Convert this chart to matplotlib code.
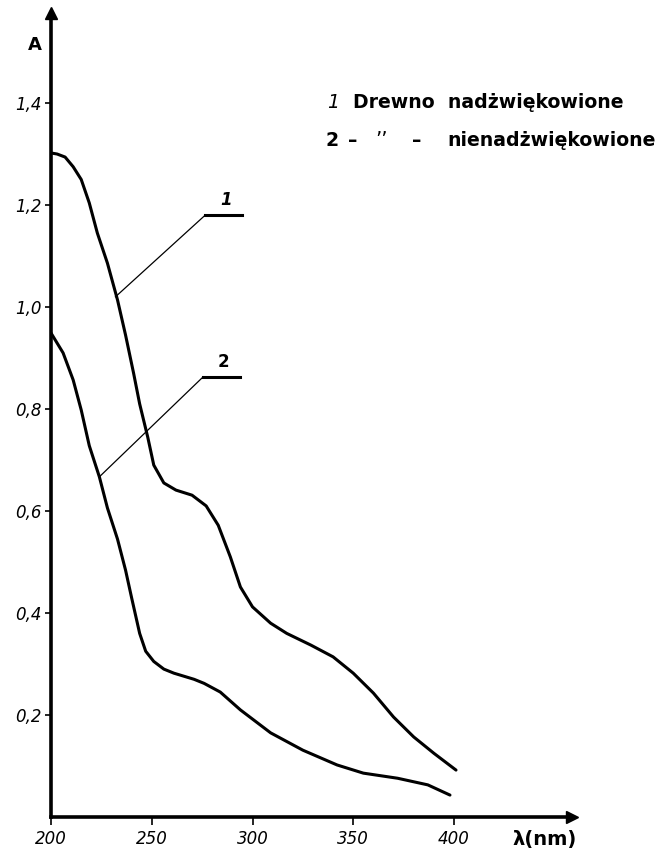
import matplotlib.pyplot as plt

# wavelength (nm) / absorbance
wl_1 = [200, 203, 207, 211, 215, 219, 223, 228, 233, 237, 241, 244, 248, 251, 256, 262, 270, 277,
        283, 289, 294, 300, 309, 317, 329, 340, 350, 360, 370, 380, 390, 401]
abs_1 = [1.302, 1.30, 1.294, 1.275, 1.25, 1.204, 1.145, 1.086, 1.014, 0.945, 0.87, 0.81, 0.745, 0.69,
         0.655, 0.641, 0.631, 0.61, 0.572, 0.51, 0.451, 0.412, 0.38, 0.36, 0.337, 0.314, 0.282, 0.243,
         0.196, 0.157, 0.125, 0.092]

wl_2 = [200, 206, 211, 215, 219, 224, 228, 233, 237, 240, 242, 244, 247, 251, 256, 261, 271, 276,
        284, 294, 309, 325, 342, 355, 372, 387, 398]
abs_2 = [0.949, 0.91, 0.857, 0.798, 0.728, 0.667, 0.606, 0.545, 0.484, 0.43, 0.395, 0.36, 0.325, 0.305,
         0.29, 0.282, 0.27, 0.262, 0.245, 0.21, 0.165, 0.131, 0.102, 0.086, 0.076, 0.063, 0.043]

x_ticks = [200, 250, 300, 350, 400]
y_ticks = [0.2, 0.4, 0.6, 0.8, 1.0, 1.2, 1.4]
y_labels = ['0,2', '0,4', '0,6', '0,8', '1,0', '1,2', '1,4']

# leader lines: (point on curve, knee, end of shelf), label
leaders = [
    ([232, 276.5, 295], [1.02, 1.18, 1.18], '1'),
    ([224, 275.5, 294], [0.667, 0.863, 0.863], '2'),
]

fig = plt.figure(figsize=(6.62, 8.56), dpi=100)
ax = fig.add_axes([51/662, 39/856, (572-51)/662, (817-13)/856])
ax.set_xlim(200, 200 + (572-51)/2.015)
ax.set_ylim(0, 804/510)

for xs, ys in [(wl_1, abs_1), (wl_2, abs_2)]:
    ax.plot(xs, ys, color='black', lw=2.2, solid_capstyle='round', solid_joinstyle='round')

for lx, ly, lab in leaders:
    ax.plot(lx[:2], ly[:2], color='black', lw=0.9)
    ax.plot(lx[1:], ly[1:], color='black', lw=2.2)
    ax.text((lx[1] + lx[2]) / 2 + 1, ly[1] + 0.012, lab, ha='center', va='bottom',
            fontsize=12, style='italic' if lab == '1' else 'normal', fontweight='bold')

# axes drawn as arrows
for s in ['top', 'right']:
    ax.spines[s].set_visible(False)
ax.spines['left'].set_linewidth(2.6)
ax.spines['bottom'].set_linewidth(2.6)
ax.plot(1, 0, '>', color='black', ms=9, transform=ax.transAxes, clip_on=False)
ax.plot(0, 1, '^', color='black', ms=9, transform=ax.transAxes, clip_on=False)

ax.set_xticks(x_ticks)
ax.set_xticklabels([str(v) for v in x_ticks], fontsize=12, style='italic')
ax.set_yticks(y_ticks)
ax.set_yticklabels(y_labels, fontsize=12, style='italic')
ax.tick_params(axis='x', direction='out', length=6, width=1.2, pad=3)
ax.tick_params(axis='y', direction='out', length=4, width=1.2, pad=3)

fig.text(35/662, 1 - 45/856, 'A', ha='center', va='center', fontsize=13, fontweight='bold')
fig.text(545/662, 1 - 840/856, 'λ(nm)', ha='center', va='center', fontsize=14, fontweight='bold')

fs = 13.6
fig.text(333/662, 1 - 103/856, '1', ha='center', va='center', fontsize=fs, style='italic')
fig.text(353/662, 1 - 103/856, 'Drewno  nadżwiękowione', ha='left', va='center', fontsize=fs, fontweight='bold')
fig.text(332/662, 1 - 140/856, '2', ha='center', va='center', fontsize=fs, fontweight='bold')
fig.text(353/662, 1 - 140/856, '–', ha='center', va='center', fontsize=fs, fontweight='bold')
fig.text(382/662, 1 - 141/856, 'ʼʼ', ha='center', va='center', fontsize=14)
fig.text(417/662, 1 - 140/856, '–', ha='center', va='center', fontsize=fs, fontweight='bold')
fig.text(447/662, 1 - 140/856, 'nienadżwiękowione', ha='left', va='center', fontsize=fs, fontweight='bold')

fig.savefig('out.png', dpi=100)
